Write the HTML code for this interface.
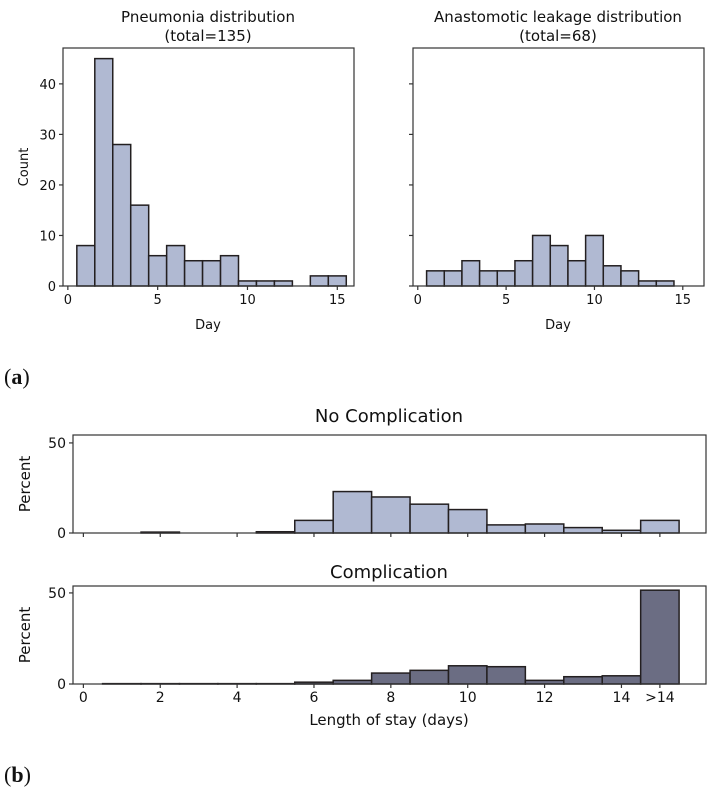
<!DOCTYPE html>
<html><head><meta charset="utf-8"><style>
body{margin:0;background:#fff;}
svg{display:block;font-family:"DejaVu Sans","Liberation Sans",sans-serif;}
</style></head><body>
<svg id="fig" width="709" height="800"></svg>
<script>
const pneuDays=[1,2,3,4,5,6,7,8,9,10,11,12,13,14,15];
const pneuCounts=[8,45,28,16,6,8,5,5,6,1,1,1,0,2,2];
const leakDays=[1,2,3,4,5,6,7,8,9,10,11,12,13,14,15];
const leakCounts=[3,3,5,3,3,5,10,8,5,10,4,3,1,1,0];
const countTicks=[0,10,20,30,40];
const dayTicks=[0,5,10,15];
const losBins=[0,1,2,3,4,5,6,7,8,9,10,11,12,13,14,15];
const noCompPct=[0,0,0.5,0,0,0.7,7,23,20,16,13,4.5,5,3,1.5,7];
const compPct=[0,0.2,0.2,0.2,0.2,0.2,1,2,6,7.5,10,9.5,2,4,4.5,51.5];
const losTicks=[0,2,4,6,8,10,12,14,15];
const losTickLabels=["0","2","4","6","8","10","12","14",">14"];
const pctTicks=[0,50];

const NS="http://www.w3.org/2000/svg";
const svg=document.getElementById('fig');
function mk(tag,attrs,parent){const e=document.createElementNS(NS,tag);for(const k in attrs)e.setAttribute(k,attrs[k]);(parent||svg).appendChild(e);return e;}
function txt(s,attrs,parent){const e=mk('text',attrs,parent);e.textContent=s;return e;}
const EDGE='#231f20';

function panel(o){
  const g=mk('g',{});
  
  
  const sx=v=>o.x0+(v-o.xmin)/(o.xmax-o.xmin)*(o.x1-o.x0);
  const sy=v=>o.y1-(v-o.ymin)/(o.ymax-o.ymin)*(o.y1-o.y0);
  o.vals.forEach((v,i)=>{
    const c=o.cats[i];
    const r=mk('rect',{x:sx(c-0.5),y:sy(v),width:sx(c+0.5)-sx(c-0.5),height:sy(0)-sy(v),fill:o.fill,stroke:EDGE,'stroke-width':1.5},g);
    
    
  });
  const f=mk('rect',{x:o.x0,y:o.y0,width:o.x1-o.x0,height:o.y1-o.y0,fill:'none',stroke:'#333','stroke-width':1.2},g);
  
  
  o.yticks.forEach(t=>{
    mk('line',{x1:o.x0-4,x2:o.x0,y1:sy(t),y2:sy(t),stroke:'#333','stroke-width':1.2},g);
    if(o.ylabels){const l=txt(String(t),{x:o.x0-7,y:sy(t)+5,'text-anchor':'end','font-size':o.tfs,fill:'#111'},g);
      
      }
  });
  o.xticks.forEach((t,i)=>{
    mk('line',{x1:sx(t),x2:sx(t),y1:o.y1,y2:o.y1+4,stroke:'#333','stroke-width':1.2},g);
    if(o.xlabels){const l=txt(o.xlabels[i],{x:sx(t),y:o.y1+18,'text-anchor':'middle','font-size':o.tfs,fill:'#111'},g);
      
      }
  });
}
const light='#b0b9d2', dark='#6b6d83';
panel({name:'pneumonia-histogram',x0:63,x1:354,y0:48,y1:286,xmin:-0.27,xmax:15.93,ymin:0,ymax:47.1,cats:pneuDays,vals:pneuCounts,fill:light,yticks:countTicks,ylabels:true,xticks:dayTicks,xlabels:dayTicks.map(String),tfs:13});
panel({name:'leakage-histogram',x0:413,x1:704,y0:48,y1:286,xmin:-0.27,xmax:16.2,ymin:0,ymax:47.1,cats:leakDays,vals:leakCounts,fill:light,yticks:countTicks,ylabels:false,xticks:dayTicks,xlabels:dayTicks.map(String),tfs:13});
panel({name:'no-complication-histogram',x0:73,x1:706,y0:435,y1:533,xmin:-0.27,xmax:16.2,ymin:0,ymax:54.4,cats:losBins,vals:noCompPct,fill:light,yticks:pctTicks,ylabels:true,xticks:losTicks,xlabels:null,tfs:14});
panel({name:'complication-histogram',x0:73,x1:706,y0:586,y1:684,xmin:-0.27,xmax:16.2,ymin:0,ymax:53.8,cats:losBins,vals:compPct,fill:dark,yticks:pctTicks,ylabels:true,xticks:losTicks,xlabels:losTickLabels,tfs:14});

function label(s,x,y,fs,name,rot,font){
  const a={x:x,y:y,'text-anchor':'middle','font-size':fs,fill:'#111'};
  if(rot)a.transform='rotate(-90 '+x+' '+y+')';
  if(font)a['font-family']=font;
  const t=txt(s,a);
  
  
}
label('Pneumonia distribution',208,22,15,'pneumonia-title');
label('(total=135)',208,41,15,'pneumonia-total');
label('Anastomotic leakage distribution',558,22,15,'leakage-title');
label('(total=68)',558,41,15,'leakage-total');
label('Count',28,167,13,'y-axis-title',true);
label('Day',208,329,13,'x-axis-title-left');
label('Day',558,329,13,'x-axis-title-right');
label('No Complication',389,422,18,'no-complication-title');
label('Complication',389,578,18,'complication-title');
label('Percent',30,484,15,'y-axis-title-top',true);
label('Percent',30,635,15,'y-axis-title-bottom',true);
label('Length of stay (days)',389,725,15,'x-axis-title-bottom');
const a=mk('text',{x:4,y:384,'font-size':22,'font-family':'"Liberation Serif",serif',fill:'#111'});


a.innerHTML='(<tspan font-weight="bold">a</tspan>)';
const b=mk('text',{x:4,y:782,'font-size':22,'font-family':'"Liberation Serif",serif',fill:'#111'});


b.innerHTML='(<tspan font-weight="bold">b</tspan>)';
</script>
</body></html>
